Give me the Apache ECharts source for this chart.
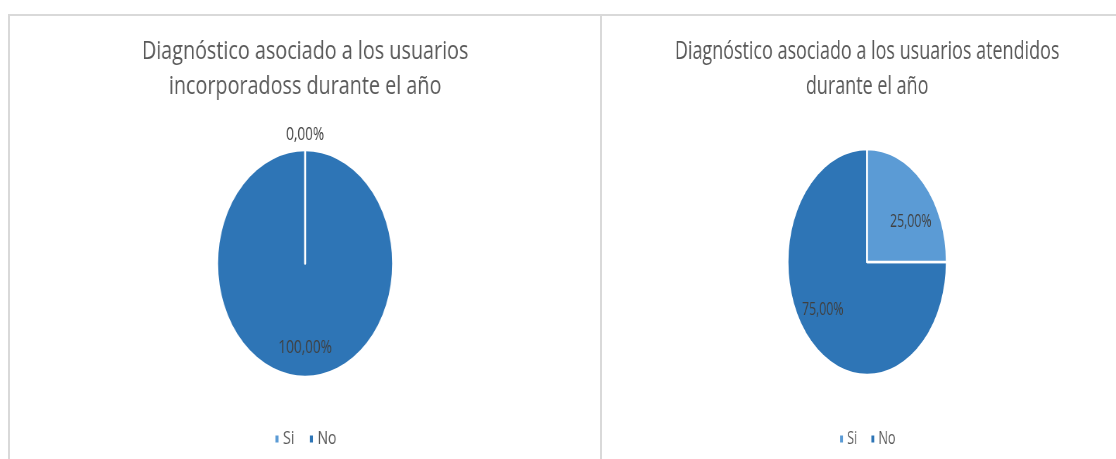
<!DOCTYPE html>
<html>
<head>
<meta charset="utf-8">
<script src="https://cdn.jsdelivr.net/npm/echarts@6/dist/echarts.min.js"></script>
<style>
  html, body { margin: 0; padding: 0; background: #fff; width: 1116px; height: 459px; overflow: hidden; }
  .chart { position: absolute; top: 15px; height: 444px; transform-origin: 0 0; }
  #left { left: 9px; width: 764px; transform: scaleX(0.7752); }
  #right { left: 602px; width: 753px; transform: scaleX(0.7042); }
  .frame { position: absolute; top: 14px; height: 460px; border: 2px solid #d9d9d9; border-bottom: none; pointer-events: none; }
</style>
</head>
<body>
<div id="left" class="chart"></div>
<div id="right" class="chart"></div>
<div class="frame" style="left:8px; width:590px;"></div>
<div class="frame" style="left:600px; width:600px;"></div>
<script>
var categories = ['Si', 'No'];
var incorporados = [0, 100];
var atendidos = [25, 75];
var colors = ['#5b9bd5', '#2e75b6'];

var titles = [
	'Diagnóstico asociado a los usuarios\nincorporadoss durante el año',
	'Diagnóstico asociado a los usuarios atendidos\ndurante el año'
];

function pct(p) {
	return p.percent.toFixed(2).replace('.', ',') + '%';
}

// slices are listed last-to-first and drawn counter-clockwise, so "Si" is painted
// on top (keeps the white border of an empty slice visible, as in Excel)
function getChartOption(title, values, cy, radius, nudges) {
	var data = categories.map(function(c, i) {
		return { name: c, value: values[i], itemStyle: { color: colors[i] } };
	}).reverse();
	return {
		animation: false,
		title: {
			text: title,
			left: 'center',
			top: 19,
			padding: 0,
			textStyle: {
				color: '#595959',
				fontFamily: 'Open Sans',
				fontSize: 25.5,
				fontWeight: 'normal',
				lineHeight: 35
			}
		},
		legend: {
			bottom: 6,
			left: 'center',
			icon: 'rect',
			itemWidth: 6,
			itemHeight: 9,
			itemGap: 18,
			textStyle: {
				color: '#595959',
				fontFamily: 'Open Sans',
				fontSize: 18
			},
			data: categories
		},
		series: [ {
			type: 'pie',
			center: [ '50%', cy ],
			radius: radius,
			startAngle: 90,
			clockwise: false,
			avoidLabelOverlap: false,
			itemStyle: {
				borderColor: '#fff',
				borderWidth: 2.5
			},
			label: {
				show: true,
				position: 'inside',
				formatter: pct,
				color: '#404040',
				fontFamily: 'Open Sans',
				fontSize: 17.5
			},
			labelLine: { show: false },
			emphasis: { disabled: true },
			labelLayout: function(p) {
				var n = nudges[data[p.dataIndex].name] || [0, 0];
				return { dx: n[0], dy: n[1] };
			},
			data: data
		} ]
	};
}

var charts = [
	echarts.init(document.getElementById('left')),
	echarts.init(document.getElementById('right'))
];
charts[0].setOption(getChartOption(titles[0], incorporados, 248.5, 113.5, { Si: [0, -69], No: [0, 25] }));
charts[1].setOption(getChartOption(titles[1], atendidos, 247, 113, { Si: [20, 2], No: [-21, 6] }));
</script>
</body>
</html>
